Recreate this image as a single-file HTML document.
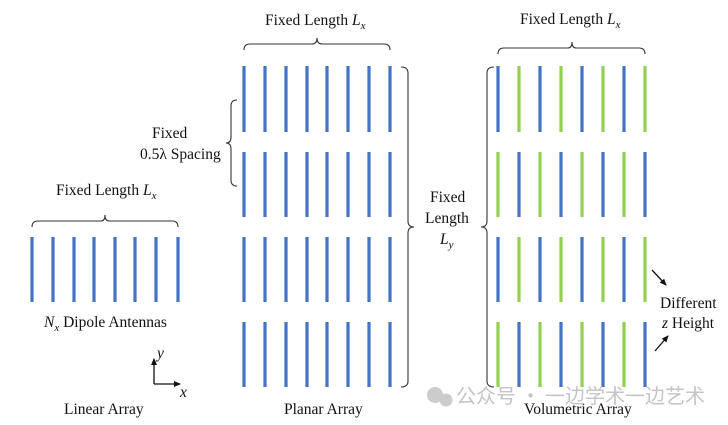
<!DOCTYPE html>
<html><head><meta charset="utf-8"><style>
body{margin:0;background:#fff}
svg{display:block}
text{font-family:"Liberation Serif","Times New Roman",serif;font-size:15.5px;fill:#111}
</style></head><body>
<svg width="728" height="425" viewBox="0 0 728 425" xmlns="http://www.w3.org/2000/svg">
<defs>
<marker id="ar" markerWidth="8" markerHeight="8" refX="6" refY="3" orient="auto" markerUnits="userSpaceOnUse"><path d="M0,0 L7,3 L0,6 z" fill="#111"/></marker>
</defs>
<g stroke="#4472C4" stroke-width="3.2">
<path d="M32,237V302M53,237V302M74,237V302M94,237V302M115,237V302M135,237V302M156,237V302M178,237V302"/>
</g>
<g stroke="#4472C4" stroke-width="3.2">
<path d="M244,66V132M265,66V132M286,66V132M307,66V132M327,66V132M348,66V132M369,66V132M390,66V132"/>
<path d="M244,152V217M265,152V217M286,152V217M307,152V217M327,152V217M348,152V217M369,152V217M390,152V217"/>
<path d="M244,237V302M265,237V302M286,237V302M307,237V302M327,237V302M348,237V302M369,237V302M390,237V302"/>
<path d="M244,322V387M265,322V387M286,322V387M307,322V387M327,322V387M348,322V387M369,322V387M390,322V387"/>
</g>
<g stroke-width="3.2">
<g stroke="#4472C4"><path d="M498,66V132M540,66V132M582,66V132M624,66V132"/><path d="M519,152V217M561,152V217M603,152V217M645,152V217"/><path d="M498,237V302M540,237V302M582,237V302M624,237V302"/><path d="M519,322V387M561,322V387M603,322V387M645,322V387"/></g>
<g stroke="#92D050"><path d="M519,66V132M561,66V132M603,66V132M645,66V132"/><path d="M498,152V217M540,152V217M582,152V217M624,152V217"/><path d="M519,237V302M561,237V302M603,237V302M645,237V302"/><path d="M498,322V387M540,322V387M582,322V387M624,322V387"/></g>
</g>
<g fill="none" stroke="#333" stroke-width="1.1">
<path d="M32,227 Q32,221 38,221 L101,221 Q105,221 105,215 Q105,221 109,221 L172,221 Q178,221 178,227"/>
<path d="M244,50 Q244,44 250,44 L312,44 Q317,44 317,38 Q317,44 322,44 L384,44 Q390,44 390,50"/>
<path d="M498,54 Q498,48 504,48 L568,48 Q572,48 572,42 Q572,48 576,48 L639,48 Q645,48 645,54"/>
<path d="M237,100 Q231,100 231,106 L231,137 Q231,143 226,143 Q231,143 231,149 L231,180 Q231,186 237,186"/>
<path d="M401,67 Q408,67 408,73 L408,221 Q408,227 414,227 Q408,227 408,233 L408,381 Q408,387 401,387"/>
<path d="M494,67 Q487,67 487,73 L487,221 Q487,227 481,227 Q487,227 487,233 L487,381 Q487,387 494,387"/>
</g>
<g stroke="#111" stroke-width="1.3" fill="none">
<path d="M154,384V359" marker-end="url(#ar)"/>
<path d="M154,384H180" marker-end="url(#ar)"/>
<path d="M652,270L666,285" marker-end="url(#ar)"/>
<path d="M655,351L668,336" marker-end="url(#ar)"/>
</g>
<text x="56" y="195">Fixed Length <tspan font-style="italic">L</tspan><tspan font-style="italic" font-size="11" dy="4">x</tspan></text>
<text x="44" y="327"><tspan font-style="italic">N</tspan><tspan font-style="italic" font-size="11" dy="4">x</tspan><tspan dy="-4"> Dipole Antennas</tspan></text>
<text x="157" y="358" font-style="italic">y</text>
<text x="180" y="397" font-style="italic">x</text>
<text x="64" y="414">Linear Array</text>
<text x="265" y="25">Fixed Length <tspan font-style="italic">L</tspan><tspan font-style="italic" font-size="11" dy="4">x</tspan></text>
<text x="520" y="24">Fixed Length <tspan font-style="italic">L</tspan><tspan font-style="italic" font-size="11" dy="4">x</tspan></text>
<text x="152" y="138">Fixed</text>
<text x="140" y="159">0.5λ Spacing</text>
<text x="430" y="202">Fixed</text>
<text x="425" y="223">Length</text>
<text x="440" y="244" font-style="italic">L<tspan font-size="11" dy="4">y</tspan></text>
<text x="660" y="308">Different</text>
<text x="662" y="328"><tspan font-style="italic">z</tspan> Height</text>
<text x="284" y="414">Planar Array</text>
<text x="524" y="414">Volumetric Array</text>
<text x="456" y="403" style="fill:#c4c4c4;font-family:'Noto Sans CJK SC',sans-serif;font-size:20px">公众号 · 一边学术一边艺术</text>
<circle cx="435" cy="395" r="8" fill="#ccc"/><circle cx="446" cy="400" r="6.5" fill="#ccc"/>
</svg>
</body></html>
